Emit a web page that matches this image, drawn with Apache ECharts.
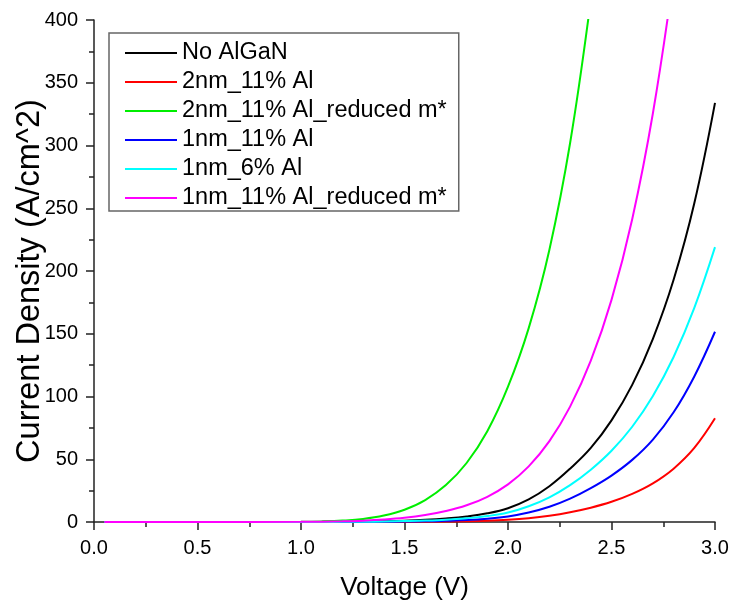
<!DOCTYPE html>
<html>
<head>
<meta charset="utf-8">
<title>Current density vs voltage</title>
<script src="https://cdn.jsdelivr.net/npm/echarts@6/dist/echarts.min.js"></script>
<style>
  html, body { margin: 0; padding: 0; background: #fff; }
  #chart { width: 735px; height: 608px; }
</style>
</head>
<body>
<div id="chart"></div>
<script>
// J-V curves: current density (A/cm^2) sampled on a common voltage grid (V)
const seriesNames = ['No AlGaN', '2nm_11% Al', '2nm_11% Al_reduced m*', '1nm_11% Al', '1nm_6% Al', '1nm_11% Al_reduced m*'];
const seriesColors = ['#000000', '#ff0000', '#00ee00', '#0000ff', '#00ffff', '#ff00ff'];

const volts = [0.05, 0.5, 1.0, 1.1, 1.2, 1.3, 1.4, 1.5, 1.6, 1.7, 1.8, 1.9, 2.0, 2.1, 2.2, 2.3, 2.4, 2.5, 2.6, 2.7, 2.8, 2.9, 3.0];

const jNoAlGaN      = [0, 0, 0.05, 0.1, 0.2, 0.35, 0.6, 1.0, 1.7, 2.8, 4.4, 6.9, 11.0, 18.0, 28.5, 42.5, 59, 81, 109.3, 146, 193, 254, 334];
const j2nm11        = [0, 0, 0, 0, 0, 0, 0, 0.1, 0.2, 0.3, 0.5, 0.9, 1.7, 3.0, 5.0, 7.8, 11.4, 16.1, 22.4, 30.8, 42.5, 59, 82.6];
const j2nm11Reduced = [0, 0, 0.15, 0.45, 1.1, 2.4, 5.1, 9.8, 17.5, 29.4, 47, 72.3, 107.8, 154.5, 217, 302, 416];
const j1nm11        = [0, 0, 0, 0, 0, 0.1, 0.2, 0.3, 0.5, 0.9, 1.5, 2.6, 4.4, 7.5, 12.1, 18.6, 27, 37, 49.5, 65.7, 87.4, 116, 151.6];
const j1nm6         = [0, 0, 0, 0, 0.1, 0.2, 0.4, 0.7, 1.1, 1.8, 3.0, 4.7, 7.6, 12.6, 19.7, 29.4, 41.7, 56.8, 75.9, 100.4, 131.5, 170.6, 219];
const j1nm11Reduced = [0, 0, 0.1, 0.25, 0.5, 1.0, 1.9, 3.3, 5.5, 8.7, 13.3, 20.1, 30, 44.3, 64.4, 91.9, 128.5, 177, 241.3, 325.7, 435];

const xTicks = { min: 0, max: 3, step: 0.5 };
const yTicks = { min: 0, max: 400, step: 50 };

const currents = [jNoAlGaN, j2nm11, j2nm11Reduced, j1nm11, j1nm6, j1nm11Reduced];

const FONT = "'Liberation Sans', Arial, sans-serif";
const chart = echarts.init(document.getElementById('chart'), null, { renderer: 'canvas' });

const series = currents.map((j, i) => ({
  name: seriesNames[i],
  type: 'line',
  data: j.map((val, k) => [volts[k], val]),
  symbol: 'none',
  smooth: 0.4,
  clip: true,
  lineStyle: { color: seriesColors[i], width: 2 },
  itemStyle: { color: seriesColors[i] }
}));

const axisCommon = {
  axisLine: { show: true, onZero: false, lineStyle: { color: '#222', width: 1.5 } },
  axisTick: { show: true, inside: false, length: 8, lineStyle: { color: '#222', width: 1.5 } },
  minorTick: { show: true, splitNumber: 2, length: 5, lineStyle: { color: '#222', width: 1.5 } },
  splitLine: { show: false },
  axisLabel: { color: '#000', fontSize: 20, fontFamily: FONT, margin: 16 }
};

chart.setOption({
  backgroundColor: '#ffffff',
  animation: false,
  grid: { left: 94, right: 20, top: 20, bottom: 86, containLabel: false },
  xAxis: Object.assign({}, axisCommon, {
    type: 'value',
    min: xTicks.min, max: xTicks.max, interval: xTicks.step,
    axisLabel: Object.assign({}, axisCommon.axisLabel, { formatter: v => v.toFixed(1) }),
    name: 'Voltage (V)',
    nameLocation: 'middle',
    nameGap: 53,
    nameTextStyle: { color: '#000', fontSize: 26, fontFamily: FONT }
  }),
  yAxis: Object.assign({}, axisCommon, {
    type: 'value',
    min: yTicks.min, max: yTicks.max, interval: yTicks.step
  }),
  legend: {
    orient: 'vertical',
    left: 109,
    top: 33,
    padding: [8, 12, 1, 16],
    itemGap: 5,
    itemWidth: 52,
    itemHeight: 2,
    icon: 'rect',
    backgroundColor: '#ffffff',
    borderColor: '#666',
    borderWidth: 1.5,
    borderRadius: 0,
    textStyle: { color: '#000', fontSize: 23.5, fontFamily: FONT, lineHeight: 23 },
    data: seriesNames
  },
  graphic: [{
    type: 'text',
    x: 30,
    y: 281,
    rotation: Math.PI / 2,
    style: {
      text: 'Current Density (A/cm^2)',
      font: "32.5px 'Liberation Sans', Arial, sans-serif",
      fill: '#000',
      align: 'center',
      verticalAlign: 'middle'
    }
  }],
  series: series
});
</script>
</body>
</html>
